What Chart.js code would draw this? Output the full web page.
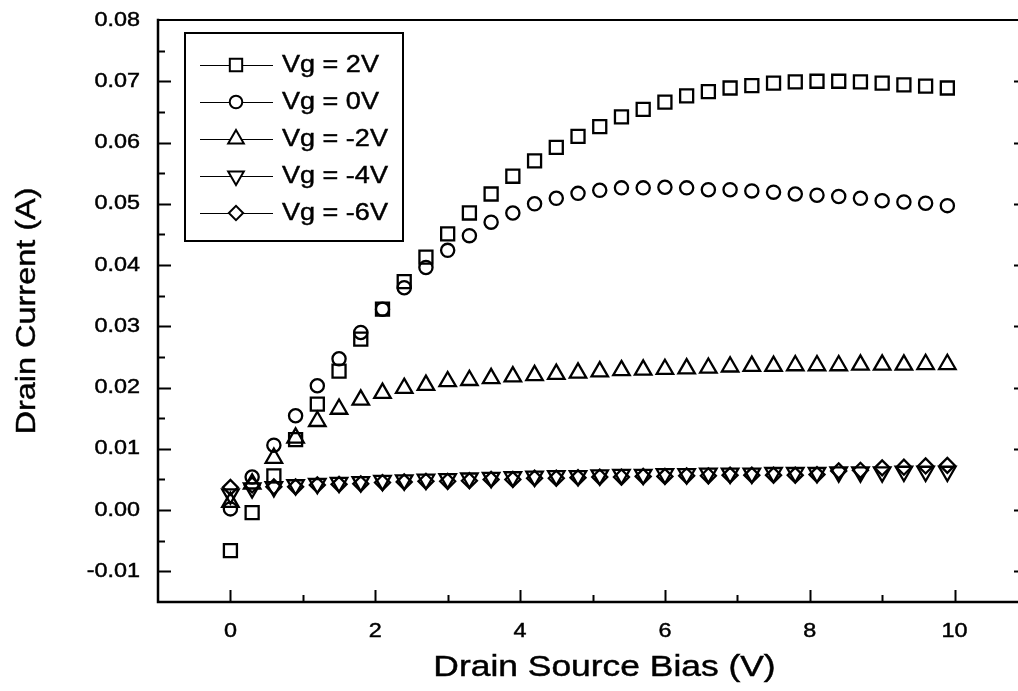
<!DOCTYPE html>
<html>
<head>
<meta charset="utf-8">
<title>Drain Current vs Drain Source Bias</title>
<script src="https://cdn.jsdelivr.net/npm/chart.js"></script>
<style>
    html, body { margin: 0; padding: 0; background: #fff; overflow: hidden; }
    #wrap { position: absolute; left: 0; top: 0; width: 1040px; height: 691px; }
</style>
</head>
<body>
<div id="wrap"><canvas id="ivChart" width="1040" height="691"></canvas></div>
<script>
// Drain source bias (V), one point every 0.3 V
const biasValues = [0, 0.3, 0.6, 0.9, 1.2, 1.5, 1.8, 2.1, 2.4, 2.7,
    3.0, 3.3, 3.6, 3.9, 4.2, 4.5, 4.8, 5.1, 5.4, 5.7,
    6.0, 6.3, 6.6, 6.9, 7.2, 7.5, 7.8, 8.1, 8.4, 8.7,
    9.0, 9.3, 9.6, 9.9];

// Drain current (A) for each gate voltage
const vg2 = [-0.0066, -0.0004, 0.0056, 0.0115, 0.0173, 0.0227, 0.0279, 0.0328, 0.0373, 0.0413,
    0.0451, 0.0485, 0.0516, 0.0545, 0.0570, 0.0592, 0.0610, 0.0626, 0.0642, 0.0654,
    0.0666, 0.0676, 0.0683, 0.0689, 0.0693, 0.0697, 0.0699, 0.0700, 0.0700, 0.0699,
    0.0697, 0.0694, 0.0692, 0.0689];
const vg0 = [0.0002, 0.0054, 0.0106, 0.0154, 0.0203, 0.0247, 0.0290, 0.0328, 0.0363, 0.0396,
    0.0424, 0.0448, 0.0470, 0.0485, 0.0500, 0.0509, 0.0517, 0.0522, 0.0526, 0.0526,
    0.0527, 0.0526, 0.0523, 0.0523, 0.0521, 0.0519, 0.0516, 0.0514, 0.0512, 0.0509,
    0.0505, 0.0503, 0.0501, 0.0497];
const vgMinus2 = [0.0013, 0.0043, 0.0085, 0.0118, 0.0145, 0.0165, 0.0180, 0.0191, 0.0199, 0.0204,
    0.0210, 0.0212, 0.0215, 0.0218, 0.0220, 0.0222, 0.0224, 0.0226, 0.0228, 0.0229,
    0.0230, 0.0231, 0.0232, 0.0234, 0.0235, 0.0235, 0.0236, 0.0236, 0.0236, 0.0237,
    0.0237, 0.0237, 0.0238, 0.0238];
const vgMinus4 = [0.0026, 0.0036, 0.0038, 0.0041, 0.0043, 0.0045, 0.0046, 0.0048, 0.0049, 0.0050,
    0.0051, 0.0052, 0.0053, 0.0054, 0.0055, 0.0056, 0.0056, 0.0057, 0.0058, 0.0058,
    0.0059, 0.0059, 0.0060, 0.0060, 0.0060, 0.0061, 0.0061, 0.0061, 0.0062, 0.0062,
    0.0062, 0.0063, 0.0063, 0.0063];
const vgMinus6 = [0.0037, 0.0041, 0.0038, 0.0038, 0.0041, 0.0042, 0.0043, 0.0045, 0.0046, 0.0047,
    0.0047, 0.0048, 0.0050, 0.0050, 0.0052, 0.0052, 0.0053, 0.0054, 0.0054, 0.0055,
    0.0055, 0.0056, 0.0056, 0.0057, 0.0057, 0.0057, 0.0057, 0.0058, 0.0064, 0.0065,
    0.0069, 0.0070, 0.0072, 0.0073];

const seriesLabels = ["Vg = 2V", "Vg = 0V", "Vg = -2V", "Vg = -4V", "Vg = -6V"];

// Tick labels
const xTicks = [0, 2, 4, 6, 8, 10];
const yTicks = [-0.01, 0.00, 0.01, 0.02, 0.03, 0.04, 0.05, 0.06, 0.07, 0.08];

// Marker look for each series (square, circle, up/down triangle, diamond)
const markers = [
    { pointStyle: 'rect', radius: 9.2, rotation: 0 },
    { pointStyle: 'circle', radius: 6.6, rotation: 0 },
    { pointStyle: 'triangle', radius: 9.5, rotation: 0 },
    { pointStyle: 'triangle', radius: 9.5, rotation: 180 },
    { pointStyle: 'rectRot', radius: 7.5, rotation: 0 }
];

const FONT = '"Liberation Sans", Arial, Helvetica, sans-serif';

// Draw text stretched along its direction (the reference lettering is wider than Arial)
function drawText(ctx, str, x, y, size, stretch, align, angle) {
    ctx.save();
    ctx.translate(x, y);
    if (angle) ctx.rotate(angle);
    ctx.scale(stretch, 1);
    ctx.font = size + 'px ' + FONT;
    ctx.fillStyle = '#000';
    ctx.strokeStyle = '#000';
    ctx.lineWidth = 0.45;
    ctx.textAlign = align;
    ctx.textBaseline = 'middle';
    ctx.fillText(str, 0, 0);
    ctx.strokeText(str, 0, 0);
    ctx.restore();
}

// Helper to build {x, y} points from the bias array
function toPoints(values) {
    return biasValues.map((x, i) => ({ x: x, y: values[i] }));
}

// Frame, inward ticks, tick labels, axis titles and the boxed legend
const framePlugin = {
    id: 'frame',
    afterDraw(chart) {
        const ctx = chart.ctx;
        const area = chart.chartArea;
        const xs = chart.scales.x;
        const ys = chart.scales.y;

        ctx.save();
        ctx.strokeStyle = '#000';
        ctx.lineCap = 'square';

        // axis lines
        ctx.lineWidth = 2.5;
        ctx.beginPath();
        ctx.moveTo(area.left, area.top);
        ctx.lineTo(area.left, area.bottom);
        ctx.lineTo(area.right, area.bottom);
        ctx.lineTo(area.right, area.top);
        ctx.stroke();
        ctx.lineWidth = 2;
        ctx.beginPath();
        ctx.moveTo(area.left, area.top);
        ctx.lineTo(area.right, area.top);
        ctx.stroke();

        // y ticks on left and right (major every 0.01, minor in between)
        ctx.lineWidth = 2;
        ctx.lineCap = 'butt';
        for (let k = -3; k <= 16; k++) {
            const py = Math.round(ys.getPixelForValue(k * 0.005)) + 0.5;
            if (py <= area.top + 1 || py >= area.bottom - 1) continue;
            const len = (k % 2 === 0) ? 13 : 7;
            ctx.beginPath();
            ctx.moveTo(area.left, py);
            ctx.lineTo(area.left + len, py);
            ctx.moveTo(area.right, py);
            ctx.lineTo(area.right - len, py);
            ctx.stroke();
        }
        // x ticks on bottom (major every 2, minor every 1)
        for (let v = 0; v <= 10; v++) {
            const px = Math.round(xs.getPixelForValue(v)) + 0.5;
            const len = (v % 2 === 0) ? 12 : 7;
            ctx.beginPath();
            ctx.moveTo(px, area.bottom);
            ctx.lineTo(px, area.bottom - len);
            ctx.stroke();
        }

        // tick labels
        yTicks.forEach(v => {
            drawText(ctx, v.toFixed(2), area.left - 18, ys.getPixelForValue(v), 20, 1.17, 'right');
        });
        xTicks.forEach(v => {
            drawText(ctx, String(v), xs.getPixelForValue(v), area.bottom + 29, 20, 1.17, 'center');
        });

        // axis titles
        drawText(ctx, 'Drain Source Bias (V)', (area.left + area.right) / 2 + 12, 668, 29.5, 1.2, 'center');
        drawText(ctx, 'Drain Current (A)', 27, (area.top + area.bottom) / 2, 27.5, 1.18, 'center', -Math.PI / 2);

        // legend box
        const box = { left: 185, top: 33, width: 218, height: 208 };
        ctx.fillStyle = '#fff';
        ctx.fillRect(box.left, box.top, box.width, box.height);
        ctx.lineWidth = 2;
        ctx.strokeRect(box.left, box.top, box.width, box.height);

        seriesLabels.forEach((label, i) => {
            const y = 65 + i * 37;
            ctx.strokeStyle = '#000';
            ctx.lineWidth = 1;
            ctx.beginPath();
            ctx.moveTo(200, y + 0.5);
            ctx.lineTo(273, y + 0.5);
            ctx.stroke();
            ctx.fillStyle = '#fff';
            ctx.lineWidth = 2;
            const m = markers[i];
            Chart.helpers.drawPoint(ctx, {
                pointStyle: m.pointStyle,
                radius: m.radius * 0.95,
                rotation: m.rotation,
                borderWidth: 2
            }, 236, y);
            drawText(ctx, label, 282, y + 1, 23.5, 1.15, 'left');
        });
        ctx.restore();
    }
};

const seriesData = [vg2, vg0, vgMinus2, vgMinus4, vgMinus6];

const ctx = document.getElementById('ivChart').getContext('2d');
window.ivChart = new Chart(ctx, {
    type: 'scatter',
    data: {
        datasets: seriesData.map((values, i) => ({
            label: seriesLabels[i],
            data: toPoints(values),
            showLine: false,
            pointStyle: markers[i].pointStyle,
            pointRadius: markers[i].radius,
            pointRotation: markers[i].rotation,
            pointBorderWidth: 2.3,
            pointBorderColor: '#000',
            pointBackgroundColor: 'rgba(0,0,0,0)',
            borderColor: '#000',
            backgroundColor: 'rgba(0,0,0,0)'
        }))
    },
    options: {
        responsive: false,
        animation: false,
        devicePixelRatio: 1,
        layout: { padding: { left: 158, top: 20, right: 13, bottom: 89 } },
        scales: {
            x: { type: 'linear', min: -1, max: 11, display: false },
            y: { type: 'linear', min: -0.015, max: 0.08, display: false }
        },
        plugins: {
            legend: { display: false },
            tooltip: { enabled: false }
        }
    },
    plugins: [framePlugin]
});
</script>
</body>
</html>
